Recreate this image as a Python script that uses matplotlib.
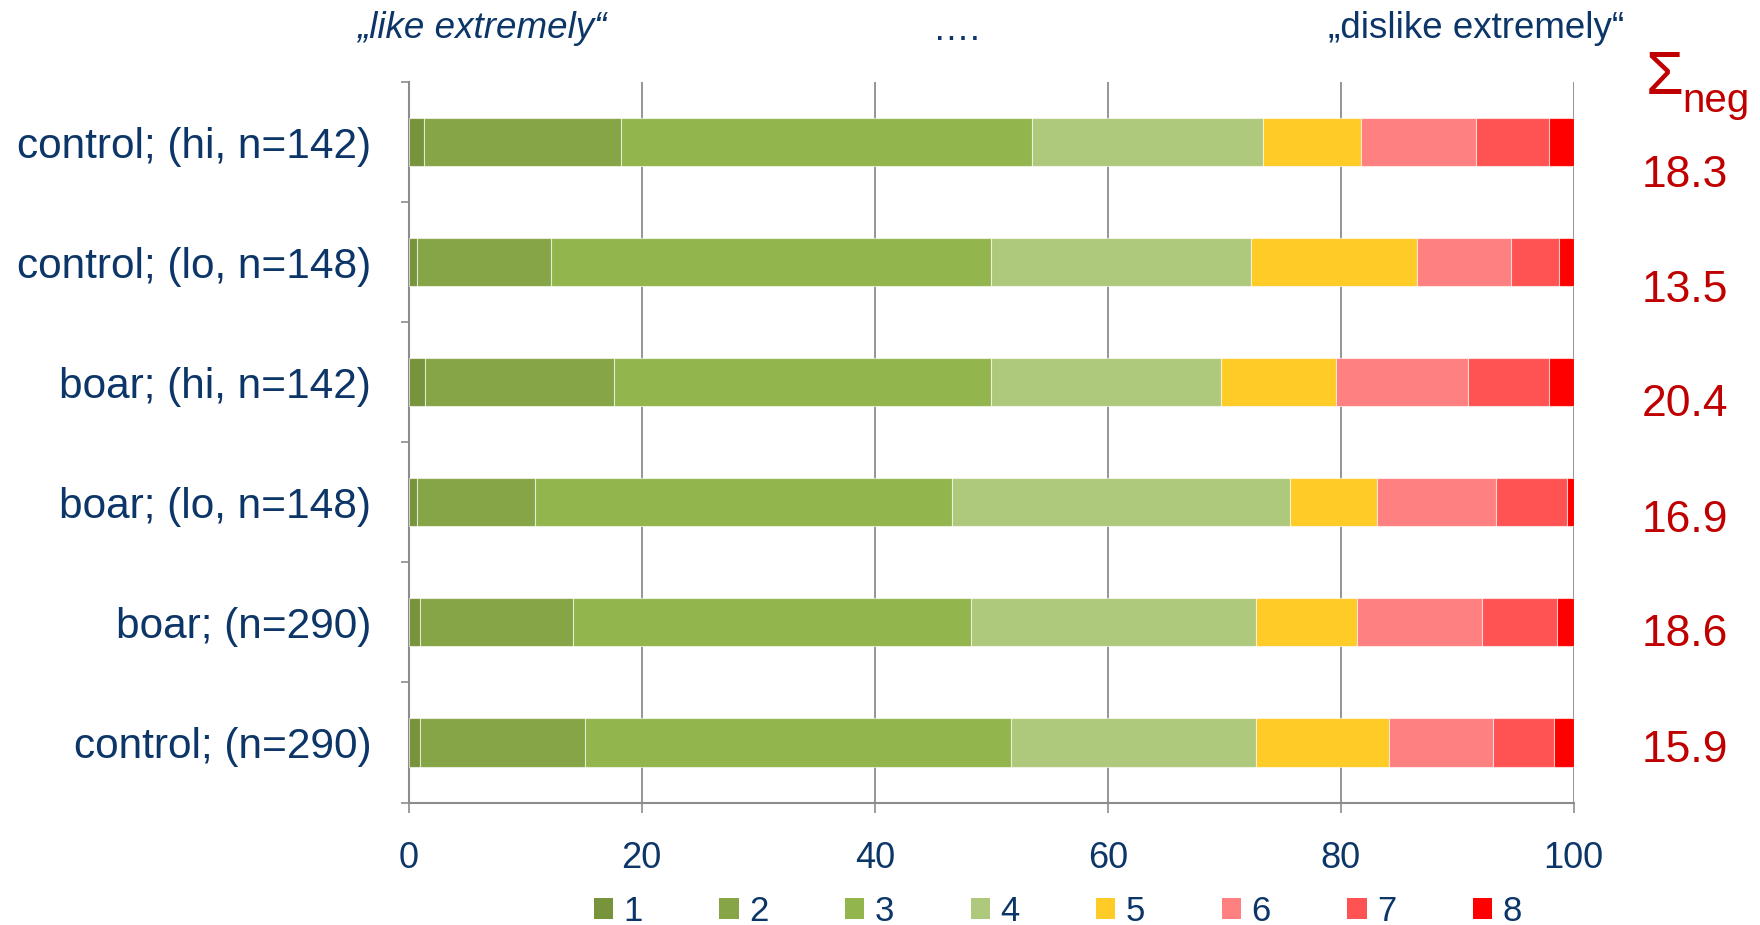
import numpy as np
import matplotlib
matplotlib.use("Agg")
import matplotlib.pyplot as plt
from matplotlib.patches import Patch

plt.rcParams['font.family'] = ['Liberation Sans', 'DejaVu Sans']

# groups, top to bottom
groups = ["control; (hi, n=142)", "control; (lo, n=148)", "boar; (hi, n=142)",
          "boar; (lo, n=148)", "boar; (n=290)", "control; (n=290)"]

# share (%) of each rating 1..8 per group
r1 = [1.3, 0.7, 1.4, 0.7, 1.0, 1.0]
r2 = [16.9, 11.5, 16.2, 10.1, 13.1, 14.1]
r3 = [35.3, 37.8, 32.4, 35.8, 34.2, 36.6]
r4 = [19.8, 22.3, 19.7, 29.0, 24.4, 21.0]
r5 = [8.4, 14.2, 9.9, 7.5, 8.7, 11.4]
r6 = [9.9, 8.1, 11.3, 10.2, 10.7, 9.0]
r7 = [6.3, 4.1, 7.0, 6.1, 6.5, 5.2]
r8 = [2.1, 1.3, 2.1, 0.6, 1.4, 1.7]
ratings = ["1", "2", "3", "4", "5", "6", "7", "8"]
colors = ["#77933C", "#85A546", "#93B54D", "#AFC97C",
          "#FFCB27", "#FF8080", "#FF5353", "#FF0000"]

neg_sums = ["18.3", "13.5", "20.4", "16.9", "18.6", "15.9"]

navy = "#0D3668"
red = "#C00000"
gray = "#8C8C8C"

fig = plt.figure(figsize=(17.6, 9.25), dpi=100)
ax = fig.add_axes([0.2322, 0.1324, 0.662, 0.779])

y = np.arange(len(groups))
left = np.zeros(len(groups))
for vals, c, lab in zip([r1, r2, r3, r4, r5, r6, r7, r8], colors, ratings):
    ax.barh(y, vals, left=left, height=0.4, color=c, label=lab,
            edgecolor=(1, 1, 1, 0.6), linewidth=0.8, zorder=3)
    left += np.array(vals)

ax.set_xlim(0, 100)
ax.set_ylim(5.5, -0.5)

# axes styling
for s in ["top", "right"]:
    ax.spines[s].set_visible(False)
for s in ["left", "bottom"]:
    ax.spines[s].set_color(gray)
    ax.spines[s].set_linewidth(1.5)

ax.set_xticks(np.arange(0, 101, 20))
ax.xaxis.grid(True, color=gray, linewidth=1.3, zorder=0)
ax.set_axisbelow(True)
ax.tick_params(axis="x", direction="out", length=7, width=1.2, color=gray,
               labelsize=26, labelcolor=navy, pad=21)

ax.set_yticks(y)
ax.set_yticklabels(groups)
ax.set_yticks(np.arange(-0.5, 6, 1), minor=True)
ax.tick_params(axis="y", which="major", length=0, labelsize=30.5,
               labelcolor=navy, pad=27)
ax.tick_params(axis="y", which="minor", length=6, width=1.2, color=gray)

# scale annotations on top
fig.text(357 / 1760, 1 - 28 / 925, "„like extremely“", fontsize=26.5,
         style="italic", color=navy, ha="left", va="center")
fig.text(957 / 1760, 1 - 31 / 925, "….", fontsize=26.5, color=navy,
         ha="center", va="center")
fig.text(1624 / 1760, 1 - 28 / 925, "„dislike extremely“", fontsize=26.5,
         color=navy, ha="right", va="center")

# sum of negative ratings (6-8)
fig.text(1665 / 1760, 1 - 78 / 925, "Σ", fontsize=44, color=red,
         ha="center", va="center")
fig.text(1682 / 1760, 1 - 112 / 925, "neg", fontsize=29, color=red,
         ha="left", va="baseline")
for yy, s in zip(np.linspace(175, 750, len(neg_sums)), neg_sums):
    fig.text(1728 / 1760, 1 - yy / 925, s, fontsize=32, color=red,
             ha="right", va="center")

handles = [Patch(facecolor=c, edgecolor="none", label=l) for c, l in zip(colors, ratings)]
fig.legend(handles=handles, loc="center", bbox_to_anchor=(0.601, 0.015),
           ncol=8, frameon=False, fontsize=25, labelcolor=navy,
           handlelength=0.56, handleheight=0.56, handletextpad=0.3,
           columnspacing=2.2)

fig.savefig("out.png", dpi=100)
